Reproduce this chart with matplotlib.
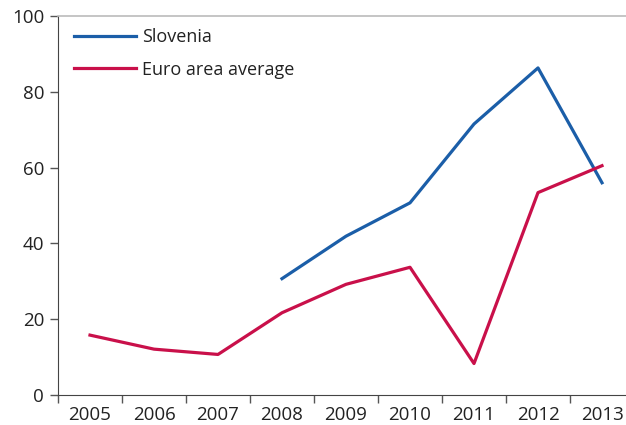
#!/usr/bin/env python3
"""Slovenia vs euro area average, 2005-2013."""

import numpy as np
import matplotlib
matplotlib.use('Agg')
import matplotlib.pyplot as plt

years = ['2005', '2006', '2007', '2008', '2009', '2010', '2011', '2012', '2013']
slovenia = [np.nan, np.nan, np.nan, 30.7, 41.9, 50.7, 71.5, 86.3, 56.0]
euro_area = [15.8, 12.1, 10.7, 21.7, 29.2, 33.7, 8.3, 53.4, 60.5]

plt.rcParams['font.family'] = ['Open Sans', 'DejaVu Sans']

fig = plt.figure(figsize=(6.26, 4.25), dpi=100)
ax = fig.add_axes([58 / 626, 30 / 425, 568 / 626, 379 / 425])

x = np.arange(len(years))
ax.plot(x, slovenia, color='#1b5ea8', linewidth=2.3, label='Slovenia')
ax.plot(x, euro_area, color='#c9104a', linewidth=2.3, label='Euro area average')

ax.set_xlim(-0.5, 8.375)
ax.set_ylim(0, 100)

# ticks sit at category boundaries, labels centred below each year
ax.set_xticks(np.arange(-0.5, 8.5, 1.0))
ax.set_xticklabels([])
ax.set_xticks(x, minor=True)
ax.set_xticklabels(years, minor=True)
ax.tick_params(axis='x', which='major', length=6, width=1, color='#555555', direction='out')
ax.tick_params(axis='x', which='minor', length=0, pad=8, labelsize=13.5, labelcolor='#222222')

ax.set_yticks(np.arange(0, 101, 20))
ax.tick_params(axis='y', length=6, width=1, color='#555555', pad=4,
               labelsize=13.5, labelcolor='#222222')

ax.spines['right'].set_visible(False)
ax.spines['left'].set_color('#444444')
ax.spines['bottom'].set_color('#444444')
ax.spines['top'].set_color('#bbbbbb')
ax.spines['top'].set_linewidth(1.2)

ax.legend(loc='upper left', bbox_to_anchor=(0.0, 1.01), frameon=False,
          fontsize=13, handlelength=3.4, handletextpad=0.35, labelspacing=0.78,
          labelcolor='#222222')

plt.savefig('out.png', dpi=100)
